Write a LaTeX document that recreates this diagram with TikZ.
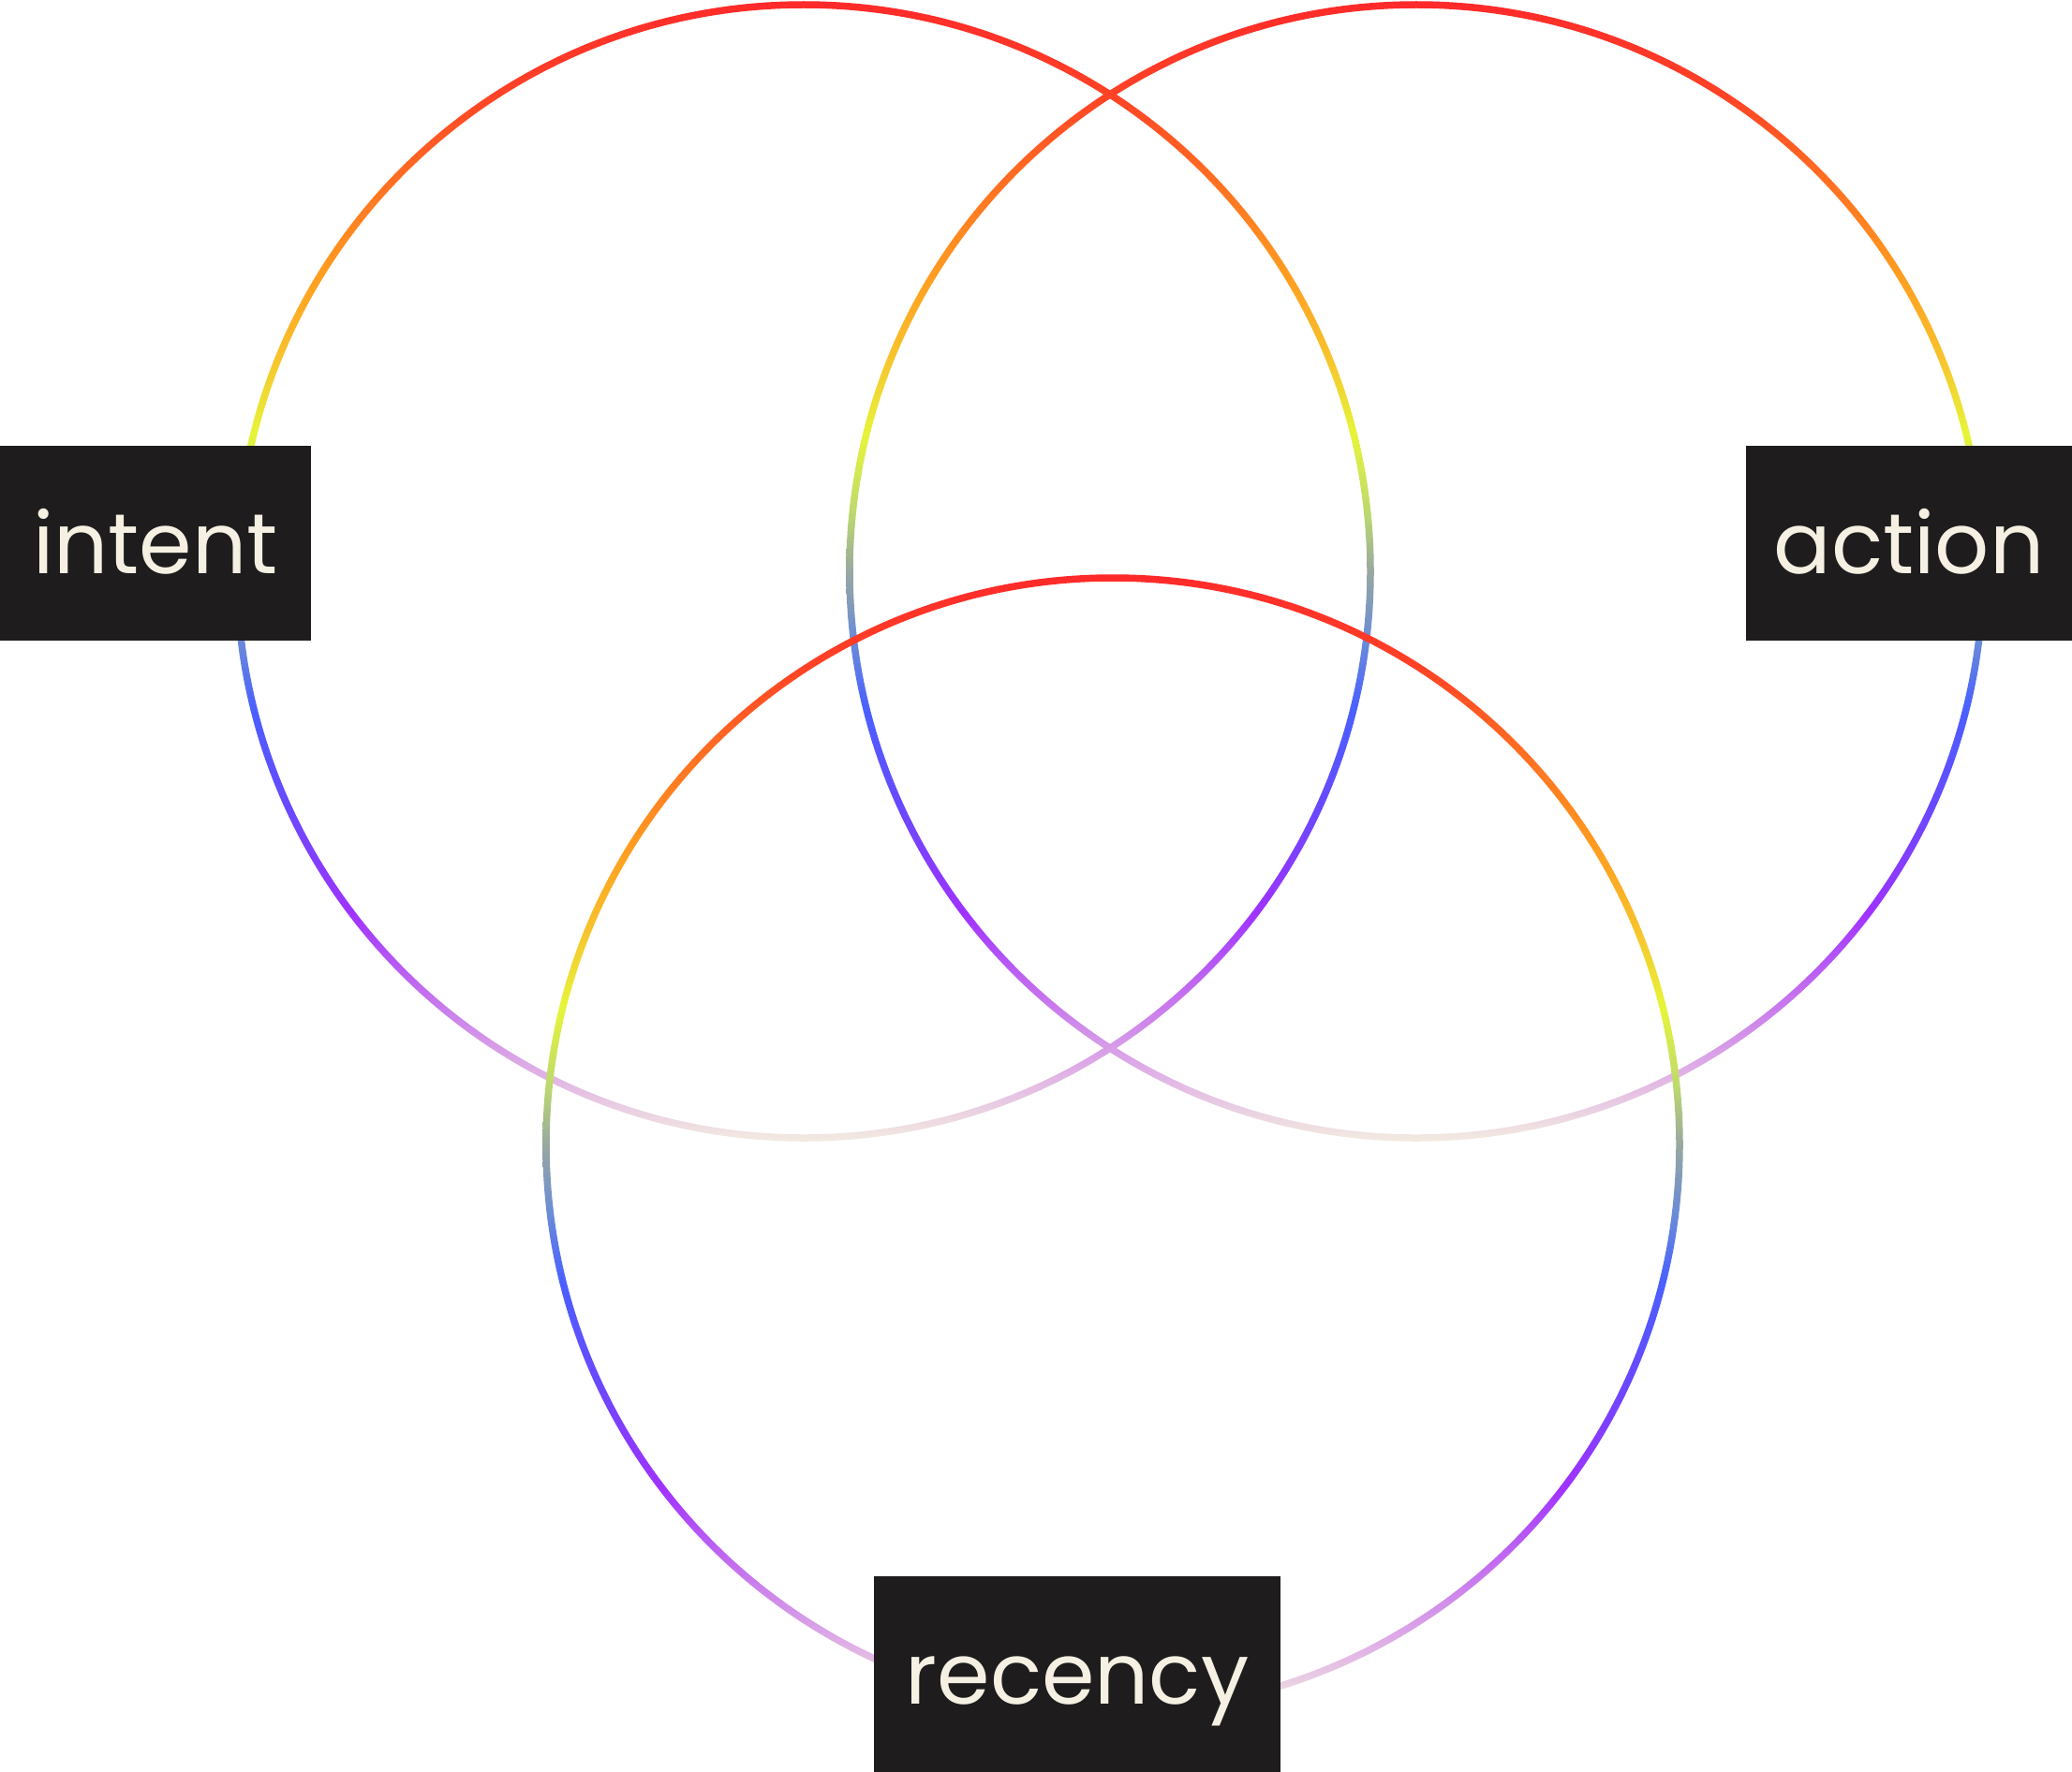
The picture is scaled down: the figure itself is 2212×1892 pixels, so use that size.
\documentclass[tikz,border=0pt]{standalone}
\usepackage{fontspec}
\setmainfont{Poppins}
\definecolor{g00}{HTML}{FF2A2A}
\definecolor{g01}{HTML}{FF4226}
\definecolor{g02}{HTML}{FF7022}
\definecolor{g03}{HTML}{FF9D20}
\definecolor{g04}{HTML}{F8C22C}
\definecolor{g05}{HTML}{E6F53A}
\definecolor{g06}{HTML}{BCD870}
\definecolor{g07}{HTML}{98A8A0}
\definecolor{g08}{HTML}{6A8CD8}
\definecolor{g09}{HTML}{4A60FF}
\definecolor{g10}{HTML}{6A48FF}
\definecolor{g11}{HTML}{A032FF}
\definecolor{g12}{HTML}{C470EE}
\definecolor{g13}{HTML}{DCA8E6}
\definecolor{g14}{HTML}{F3EBE0}
\definecolor{boxfill}{HTML}{1E1C1D}
\definecolor{labeltext}{HTML}{F5F0E2}
\pgfdeclareverticalshading{ringgrad}{100bp}{%
  color(0bp)=(g14); color(25bp)=(g14); color(28.5bp)=(g13); color(31.5bp)=(g12);
  color(35bp)=(g11); color(39.5bp)=(g10); color(44bp)=(g09); color(47bp)=(g08);
  color(50bp)=(g07); color(52.5bp)=(g06); color(56bp)=(g05); color(59.5bp)=(g04);
  color(63bp)=(g03); color(67bp)=(g02); color(71bp)=(g01); color(75bp)=(g00);
  color(100bp)=(g00)}
\tikzset{
  ring/.style={shading=ringgrad, even odd rule},
  labelbox/.style={fill=boxfill, text=labeltext, inner sep=0pt,
    text height=136pt, text depth=72pt, minimum height=208pt,
    font=\fontsize{91}{100}\selectfont}
}
\begin{document}
\begin{tikzpicture}[x=1pt, y=-1pt]
\useasboundingbox (0,0) rectangle (2212,1892);
\def\ro{608.75}
\def\ri{601.25}
\coordinate (c1) at (858,610);
\coordinate (c2) at (1512,610);
\coordinate (c3) at (1188,1222);
\shade[ring] (c1) circle (\ro) (c1) circle (\ri);
\shade[ring] (c2) circle (\ro) (c2) circle (\ri);
\shade[ring] (c3) circle (\ro) (c3) circle (\ri);
\node[labelbox, minimum width=332pt] (intent) at (166,580) {intent};
\node[labelbox, minimum width=348pt] (action) at (2038,580) {action};
\node[labelbox, minimum width=434pt, minimum height=209pt, text depth=73pt] (recency) at (1150,1787.5) {recency};
\end{tikzpicture}
\end{document}
